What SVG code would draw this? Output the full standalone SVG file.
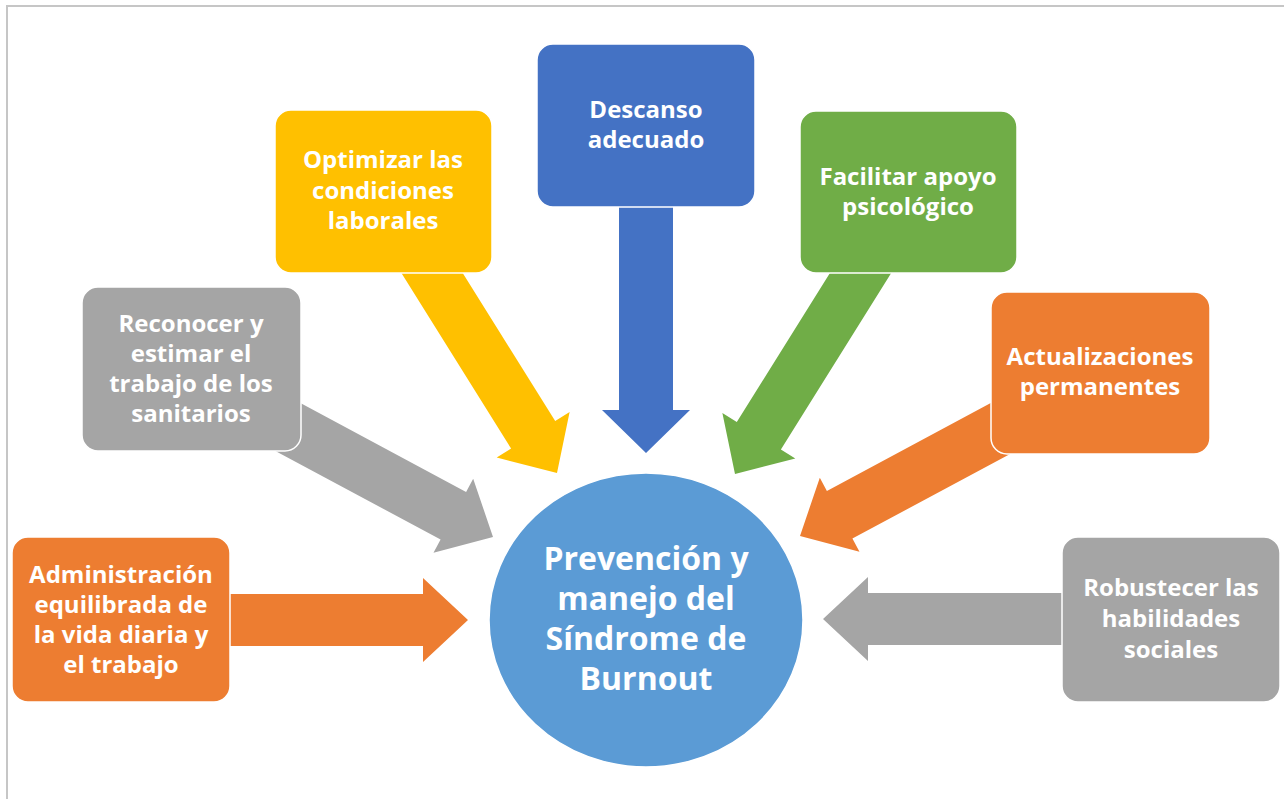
<svg xmlns="http://www.w3.org/2000/svg" width="1284" height="799" viewBox="0 0 1284 799">
<style>
  .box { stroke: #ffffff; stroke-width: 1.5; }
  .t { font-family: "Open Sans", "Liberation Sans", sans-serif; font-weight: 700; fill: #ffffff; text-anchor: middle; font-size: 24px; }
  .tc { font-family: "Open Sans", "Liberation Sans", sans-serif; font-weight: 700; fill: #ffffff; text-anchor: middle; font-size: 32px; }
  .orange { fill: #ED7D31; }
  .gray { fill: #A5A5A5; }
  .yellow { fill: #FFC000; }
  .blue { fill: #4472C4; }
  .green { fill: #70AD47; }
</style>
<rect x="0" y="0" width="1284" height="799" fill="#ffffff"/>
<path d="M7 799 L7 6 L1284 6" fill="none" stroke="#c6c6c6" stroke-width="2"/>

<g id="connectors">
  <path class="orange" transform="translate(468,620)" d="M-243,-26 L-45,-26 L-45,-42 L0,0 L-45,42 L-45,26 L-243,26 Z"/>
  <path class="gray" transform="translate(823,619) rotate(180)" d="M-245,-26 L-45,-26 L-45,-42 L0,0 L-45,42 L-45,26 L-245,26 Z"/>
  <path class="gray" transform="translate(493,537) rotate(28.2)" d="M-242,-27 L-45,-27 L-45,-42 L0,0 L-45,42 L-45,27 L-242,27 Z"/>
  <path class="orange" transform="translate(800,536) rotate(151.8)" d="M-242,-27 L-45,-27 L-45,-42 L0,0 L-45,42 L-45,27 L-242,27 Z"/>
  <path class="yellow" transform="translate(557,473) rotate(58)" d="M-260,-26 L-45,-26 L-45,-43 L0,0 L-45,43 L-45,26 L-260,26 Z"/>
  <path class="green" transform="translate(735,474) rotate(122)" d="M-260,-26 L-45,-26 L-45,-43 L0,0 L-45,43 L-45,26 L-260,26 Z"/>
  <path class="blue" transform="translate(646,453) rotate(90)" d="M-253,-27 L-43,-27 L-43,-44 L0,0 L-43,44 L-43,27 L-253,27 Z"/>
</g>

<g id="node-administracion">
  <rect class="box orange" x="12" y="537" width="218" height="165" rx="16"/>
  <text class="t" x="121" y="583">Administración</text>
  <text class="t" x="121" y="613">equilibrada de</text>
  <text class="t" x="121" y="643">la vida diaria y</text>
  <text class="t" x="121" y="673">el trabajo</text>
</g>

<g id="node-reconocer">
  <rect class="box gray" x="82" y="287" width="219" height="164" rx="16"/>
  <text class="t" x="191" y="332">Reconocer y</text>
  <text class="t" x="191" y="362">estimar el</text>
  <text class="t" x="191" y="392">trabajo de los</text>
  <text class="t" x="191" y="422">sanitarios</text>
</g>

<g id="node-optimizar">
  <rect class="box yellow" x="275" y="110" width="217" height="163" rx="16"/>
  <text class="t" x="383" y="168">Optimizar las</text>
  <text class="t" x="383" y="199">condiciones</text>
  <text class="t" x="383" y="229">laborales</text>
</g>

<g id="node-descanso">
  <rect class="box blue" x="537" y="44" width="218" height="163" rx="16"/>
  <text class="t" x="646" y="118">Descanso</text>
  <text class="t" x="646" y="148">adecuado</text>
</g>

<g id="node-facilitar">
  <rect class="box green" x="800" y="111" width="217" height="162" rx="16"/>
  <text class="t" x="908" y="185">Facilitar apoyo</text>
  <text class="t" x="908" y="215">psicológico</text>
</g>

<g id="node-actualizaciones">
  <rect class="box orange" x="991" y="292" width="219" height="162" rx="16"/>
  <text class="t" x="1100" y="365">Actualizaciones</text>
  <text class="t" x="1100" y="395">permanentes</text>
</g>

<g id="node-robustecer">
  <rect class="box gray" x="1062" y="537" width="218" height="165" rx="16"/>
  <text class="t" x="1171" y="596">Robustecer las</text>
  <text class="t" x="1171" y="627">habilidades</text>
  <text class="t" x="1171" y="658">sociales</text>
</g>

<g id="node-center">
  <ellipse cx="646" cy="620" rx="157" ry="147" fill="#5B9BD5" stroke="#ffffff" stroke-width="1.5"/>
  <text class="tc" x="646" y="570">Prevención y</text>
  <text class="tc" x="646" y="610">manejo del</text>
  <text class="tc" x="646" y="650">Síndrome de</text>
  <text class="tc" x="646" y="690">Burnout</text>
</g>
</svg>
